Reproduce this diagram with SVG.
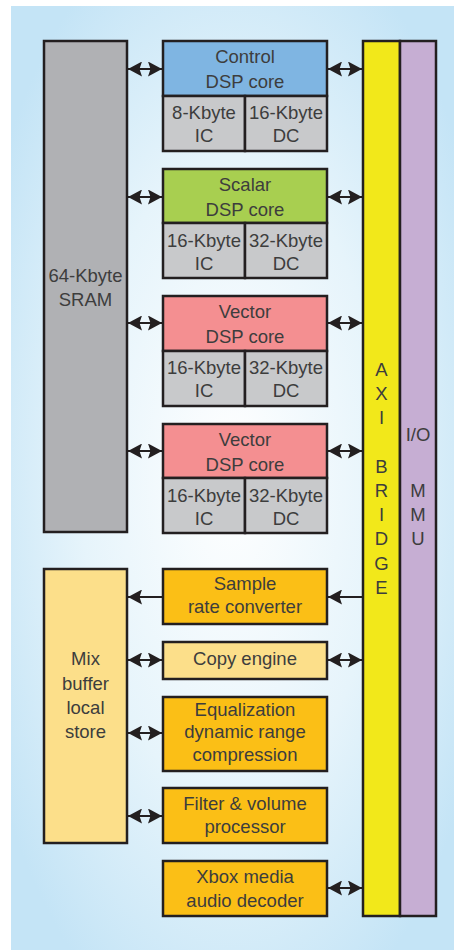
<svg xmlns="http://www.w3.org/2000/svg" width="454" height="950" viewBox="0 0 454 950">
<defs>
<radialGradient id="bg" cx="0.5" cy="0.5" r="0.62">
<stop offset="0" stop-color="#ffffff"/>
<stop offset="0.55" stop-color="#e6f4fb"/>
<stop offset="1" stop-color="#c4e4f6"/>
</radialGradient>
<marker id="ah" viewBox="0 0 14 15" refX="14" refY="7.5" markerWidth="14" markerHeight="15" markerUnits="userSpaceOnUse" orient="auto-start-reverse">
<path d="M0,0 L14,7.5 L0,15 L2.5,7.5 Z" fill="#231f20"/>
</marker>
<style>
.b{stroke:#231f20;stroke-width:2.5}
.t{font-family:"Liberation Sans",Arial,sans-serif;font-size:18.5px;fill:#3d3d3d;text-anchor:middle}
.gray{fill:#b0b1b4}
.cache{fill:#c8c9cb}
.blue{fill:#7fb5e2}
.green{fill:#a8cf50}
.red{fill:#f48f91}
.yel{fill:#f2e81a}
.pur{fill:#c6aed3}
.org{fill:#fbbf16}
.lor{fill:#fcdf8a}
.c{stroke:#231f20;stroke-width:2;fill:none}
.d{marker-start:url(#ah);marker-end:url(#ah)}
.s{marker-end:url(#ah)}
</style>
</defs>
<rect x="0" y="0" width="454" height="950" fill="#ffffff"/>
<rect x="11" y="6" width="443" height="944" fill="url(#bg)"/>

<g id="sram">
<rect class="b gray" x="44" y="41" width="83" height="491"/>
<text class="t" x="85.5" y="282">64-Kbyte</text>
<text class="t" x="85.5" y="306">SRAM</text>
</g>

<g id="control-dsp">
<rect class="b blue" x="163" y="41" width="164" height="55"/>
<rect class="b cache" x="163" y="96" width="82" height="55"/>
<rect class="b cache" x="245" y="96" width="82" height="55"/>
<text class="t" x="245" y="63">Control</text>
<text class="t" x="245" y="88">DSP core</text>
<text class="t" x="204" y="119">8-Kbyte</text>
<text class="t" x="204" y="142">IC</text>
<text class="t" x="286" y="119">16-Kbyte</text>
<text class="t" x="286" y="142">DC</text>
</g>

<g id="scalar-dsp">
<rect class="b green" x="163" y="169" width="164" height="54"/>
<rect class="b cache" x="163" y="223" width="82" height="55"/>
<rect class="b cache" x="245" y="223" width="82" height="55"/>
<text class="t" x="245" y="191">Scalar</text>
<text class="t" x="245" y="216">DSP core</text>
<text class="t" x="204" y="247">16-Kbyte</text>
<text class="t" x="204" y="270">IC</text>
<text class="t" x="286" y="247">32-Kbyte</text>
<text class="t" x="286" y="270">DC</text>
</g>

<g id="vector-dsp-1">
<rect class="b red" x="163" y="296" width="164" height="55"/>
<rect class="b cache" x="163" y="351" width="82" height="55"/>
<rect class="b cache" x="245" y="351" width="82" height="55"/>
<text class="t" x="245" y="318">Vector</text>
<text class="t" x="245" y="343">DSP core</text>
<text class="t" x="204" y="374">16-Kbyte</text>
<text class="t" x="204" y="397">IC</text>
<text class="t" x="286" y="374">32-Kbyte</text>
<text class="t" x="286" y="397">DC</text>
</g>

<g id="vector-dsp-2">
<rect class="b red" x="163" y="424" width="164" height="54"/>
<rect class="b cache" x="163" y="478" width="82" height="55"/>
<rect class="b cache" x="245" y="478" width="82" height="55"/>
<text class="t" x="245" y="446">Vector</text>
<text class="t" x="245" y="471">DSP core</text>
<text class="t" x="204" y="502">16-Kbyte</text>
<text class="t" x="204" y="525">IC</text>
<text class="t" x="286" y="502">32-Kbyte</text>
<text class="t" x="286" y="525">DC</text>
</g>

<g id="axi-bridge">
<rect class="b yel" x="363" y="41" width="37" height="875"/>
<text class="t" x="381.5" y="376">A</text>
<text class="t" x="381.5" y="400">X</text>
<text class="t" x="381.5" y="424">I</text>
<text class="t" x="381.5" y="473">B</text>
<text class="t" x="381.5" y="497">R</text>
<text class="t" x="381.5" y="521">I</text>
<text class="t" x="381.5" y="545">D</text>
<text class="t" x="381.5" y="570">G</text>
<text class="t" x="381.5" y="594">E</text>
</g>

<g id="io-mmu">
<rect class="b pur" x="400" y="41" width="36" height="875"/>
<text class="t" x="418" y="441">I/O</text>
<text class="t" x="418" y="497">M</text>
<text class="t" x="418" y="521">M</text>
<text class="t" x="418" y="545">U</text>
</g>

<g id="mix-buffer">
<rect class="b lor" x="44" y="569" width="83" height="274"/>
<text class="t" x="85.5" y="665">Mix</text>
<text class="t" x="85.5" y="690">buffer</text>
<text class="t" x="85.5" y="714">local</text>
<text class="t" x="85.5" y="738">store</text>
</g>

<g id="sample-rate-converter">
<rect class="b org" x="163" y="569" width="164" height="55"/>
<text class="t" x="245" y="590">Sample</text>
<text class="t" x="245" y="613">rate converter</text>
</g>

<g id="copy-engine">
<rect class="b lor" x="163" y="642" width="164" height="37"/>
<text class="t" x="245" y="665">Copy engine</text>
</g>

<g id="equalization">
<rect class="b org" x="163" y="697" width="164" height="74"/>
<text class="t" x="245" y="716">Equalization</text>
<text class="t" x="245" y="738">dynamic range</text>
<text class="t" x="245" y="761">compression</text>
</g>

<g id="filter-volume">
<rect class="b org" x="163" y="788" width="164" height="55"/>
<text class="t" x="245" y="810">Filter &amp; volume</text>
<text class="t" x="245" y="833">processor</text>
</g>

<g id="xbox-decoder">
<rect class="b org" x="163" y="861" width="164" height="55"/>
<text class="t" x="245" y="883">Xbox media</text>
<text class="t" x="245" y="907">audio decoder</text>
</g>

<g id="connectors">
<line class="c d" x1="128" y1="69" x2="162" y2="69"/>
<line class="c d" x1="328" y1="69" x2="362" y2="69"/>
<line class="c d" x1="128" y1="197" x2="162" y2="197"/>
<line class="c d" x1="328" y1="197" x2="362" y2="197"/>
<line class="c d" x1="128" y1="323" x2="162" y2="323"/>
<line class="c d" x1="328" y1="323" x2="362" y2="323"/>
<line class="c d" x1="128" y1="451" x2="162" y2="451"/>
<line class="c d" x1="328" y1="451" x2="362" y2="451"/>
<line class="c s" x1="362" y1="597" x2="328" y2="597"/>
<line class="c s" x1="162" y1="597" x2="128" y2="597"/>
<line class="c d" x1="128" y1="660" x2="162" y2="660"/>
<line class="c d" x1="328" y1="660" x2="362" y2="660"/>
<line class="c d" x1="128" y1="733" x2="162" y2="733"/>
<line class="c d" x1="128" y1="816" x2="162" y2="816"/>
<line class="c d" x1="328" y1="888" x2="362" y2="888"/>
</g>
</svg>
